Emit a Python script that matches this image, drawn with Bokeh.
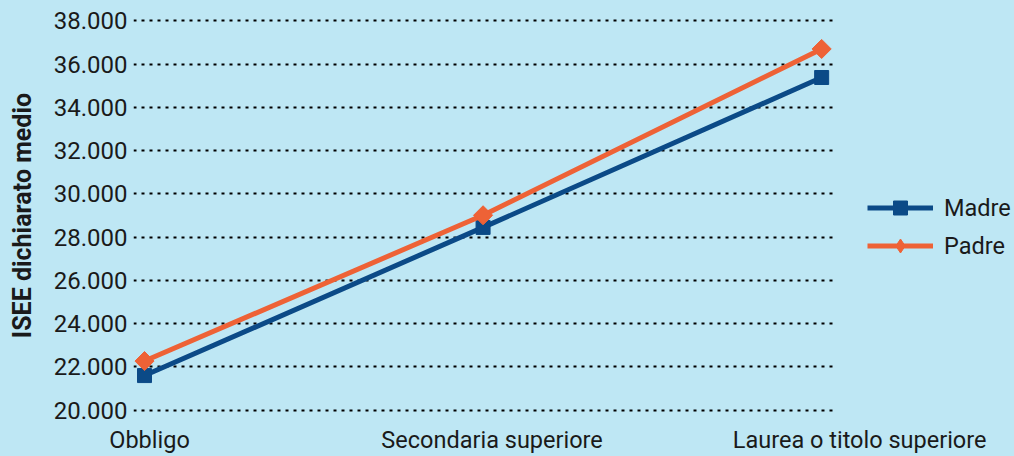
import math
from bokeh.plotting import figure
from bokeh.models import (Range1d, FixedTicker, Legend, LegendItem, BoxAnnotation)
from bokeh.embed import file_html
from bokeh.resources import INLINE

# ---- data ----
categories = ["Obbligo", "Secondaria superiore", "Laurea o titolo superiore"]
madre = [21600, 28450, 35380]
padre = [22270, 29010, 36700]
y_ticks = [20000, 22000, 24000, 26000, 28000, 30000, 32000, 34000, 36000, 38000]
y_tick_labels = ["20.000", "22.000", "24.000", "26.000", "28.000",
                 "30.000", "32.000", "34.000", "36.000", "38.000"]

# ---- style ----
BG = "#BEE7F4"
BLUE = "#0B4A87"
ORANGE = "#EE6236"
TXT = "#1a1a1a"
FONT = "Roboto"
label_px_offsets = [5, 9, 38]   # horizontal nudge of category labels, in pixels

W, H = 1014, 456
ML, MT, MB = 133, 16, 40
PLOT_W = 700                     # width of the gridded plotting area
X0, X1 = -0.0325, 2.035          # data extent of the gridded area
px_per_unit = PLOT_W / (X1 - X0)
X_END = X0 + (W - ML) / px_per_unit   # frame continues under the legend

xs = list(range(len(categories)))

p = figure(width=W, height=H, output_backend="svg", toolbar_location=None,
           x_range=Range1d(X0, X_END), y_range=Range1d(19800, 38200),
           min_border_left=ML, min_border_right=0, min_border_top=MT,
           min_border_bottom=MB)
p.background_fill_color = BG
p.border_fill_color = BG
p.outline_line_color = None

# x axis: category labels at the category positions (nudged like the original)
x_tick_pos = [round(x + d / px_per_unit, 4) for x, d in zip(xs, label_px_offsets)]
xa = p.xaxis[0]
xa.ticker = FixedTicker(ticks=x_tick_pos)
xa.major_label_overrides = dict(zip(x_tick_pos, categories))
xa.axis_line_color = None
xa.major_tick_line_color = None
xa.major_tick_out = 0
xa.major_tick_in = 0
xa.minor_tick_line_color = None
xa.major_label_standoff = 11
xa.major_label_text_font = FONT
xa.major_label_text_font_size = "23.5px"
xa.major_label_text_color = TXT

p.xgrid.visible = False
p.ygrid.ticker = FixedTicker(ticks=y_ticks)
p.ygrid.grid_line_color = "black"
p.ygrid.grid_line_dash = "3 5"
p.ygrid.grid_line_width = 2

ax = p.yaxis[0]
ax.ticker = FixedTicker(ticks=y_ticks)
ax.major_label_overrides = dict(zip(y_ticks, y_tick_labels))
ax.axis_line_color = None
ax.major_tick_line_color = None
ax.major_tick_out = 0
ax.major_tick_in = 0
ax.minor_tick_line_color = None
ax.major_label_standoff = 6
ax.major_label_text_font = FONT
ax.major_label_text_font_size = "24px"
ax.major_label_text_color = TXT
ax.axis_label = "ISEE dichiarato medio"
ax.axis_label_text_font = FONT
ax.axis_label_text_font_style = "bold"
ax.axis_label_text_font_size = "25px"
ax.axis_label_text_color = TXT
ax.axis_label_standoff = 14

# plain background to the right of the gridded area (legend zone)
p.add_layout(BoxAnnotation(left=X1, fill_color=BG, fill_alpha=1, line_color=None,
                           level="underlay"))

m_line = p.line(xs, madre, line_color=BLUE, line_width=5)
m_pts = p.scatter(xs, madre, marker="square", size=14, fill_color=BLUE, line_color=BLUE)
p_line = p.line(xs, padre, line_color=ORANGE, line_width=5)
p_key = p.scatter(xs, padre, marker="diamond", size=14, fill_color=ORANGE, line_color=ORANGE)
p_pts = p.scatter(xs, padre, marker="square", size=13.5, angle=math.pi / 4,
                  fill_color=ORANGE, line_color=ORANGE)

legend = Legend(items=[LegendItem(label="Madre", renderers=[m_line, m_pts]),
                       LegendItem(label="Padre", renderers=[p_line, p_key])],
                location=(734, 151), glyph_width=66, glyph_height=35,
                label_height=35, label_standoff=11, spacing=3, padding=0,
                margin=0, border_line_color=None, background_fill_alpha=0,
                label_text_font=FONT, label_text_font_size="23.5px",
                label_text_color=TXT)
p.add_layout(legend)

tpl = "{% block preamble %}<style>html, body { background: " + BG + "; }</style>{% endblock %}"
open("out.html", "w").write(file_html(p, INLINE, template=tpl))
